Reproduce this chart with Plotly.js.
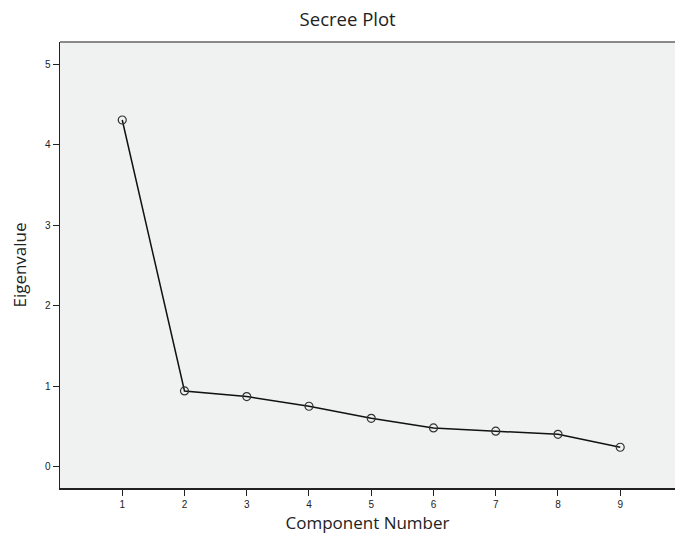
<!DOCTYPE html>
<html>
<head>
<meta charset="utf-8">
<script src="https://cdn.plot.ly/plotly-3.0.1.min.js"></script>
<style>html,body{margin:0;padding:0;background:#fff;}#chart{width:675px;height:539px;}</style>
</head>
<body>
<div id="chart"></div>
<script>
const components = [1, 2, 3, 4, 5, 6, 7, 8, 9];
const eigenvalues = [4.31, 0.94, 0.87, 0.75, 0.60, 0.48, 0.44, 0.40, 0.24];
const xTicks = [1, 2, 3, 4, 5, 6, 7, 8, 9];
const yTicks = [0, 1, 2, 3, 4, 5];

const trace = {
  x: components,
  y: eigenvalues,
  type: 'scatter',
  mode: 'lines+markers',
  line: {color: '#111', width: 1.5},
  marker: {symbol: 'circle-open', size: 8, color: '#333', line: {width: 1.2, color: '#333'}},
  hoverinfo: 'skip'
};

const layout = {
  width: 675, height: 539,
  margin: {l: 60, r: 0, t: 42, b: 51},
  paper_bgcolor: '#ffffff',
  plot_bgcolor: '#f0f1f1',
  showlegend: false,
  title: {text: 'Secree Plot', x: 0.515, xanchor: 'center', y: 0.964, yanchor: 'middle',
          font: {family: 'Open Sans, Noto Sans, sans-serif', size: 18.5, color: '#222'}},
  xaxis: {
    range: [0, 9.88], tickvals: xTicks, ticktext: xTicks.map(String),
    showgrid: false, zeroline: false, showline: true, linecolor: '#222', linewidth: 1.5,
    ticks: 'outside', ticklen: 6, tickcolor: '#222', tickwidth: 1,
    tickfont: {family: 'Liberation Sans, Arial, sans-serif', size: 10, color: '#222'},
    title: {text: 'Component Number', standoff: 8,
            font: {family: 'Open Sans, Noto Sans, sans-serif', size: 17, color: '#222'}}
  },
  yaxis: {
    range: [-0.267, 5.28], tickvals: yTicks, ticktext: yTicks.map(String),
    showgrid: false, zeroline: false, showline: true, linecolor: '#222', linewidth: 1.5,
    ticks: 'outside', ticklen: 6, tickcolor: '#222', tickwidth: 1,
    tickfont: {family: 'Liberation Sans, Arial, sans-serif', size: 10, color: '#222'},
    title: {text: 'Eigenvalue', standoff: 14,
            font: {family: 'Open Sans, Noto Sans, sans-serif', size: 17, color: '#222'}}
  },
  shapes: [
    {type: 'line', xref: 'paper', yref: 'paper', x0: 0, x1: 1, y0: 1, y1: 1,
     line: {color: '#8a8a8a', width: 2}}
  ]
};

Plotly.newPlot('chart', [trace], layout, {displayModeBar: false, staticPlot: true});
</script>
</body>
</html>
